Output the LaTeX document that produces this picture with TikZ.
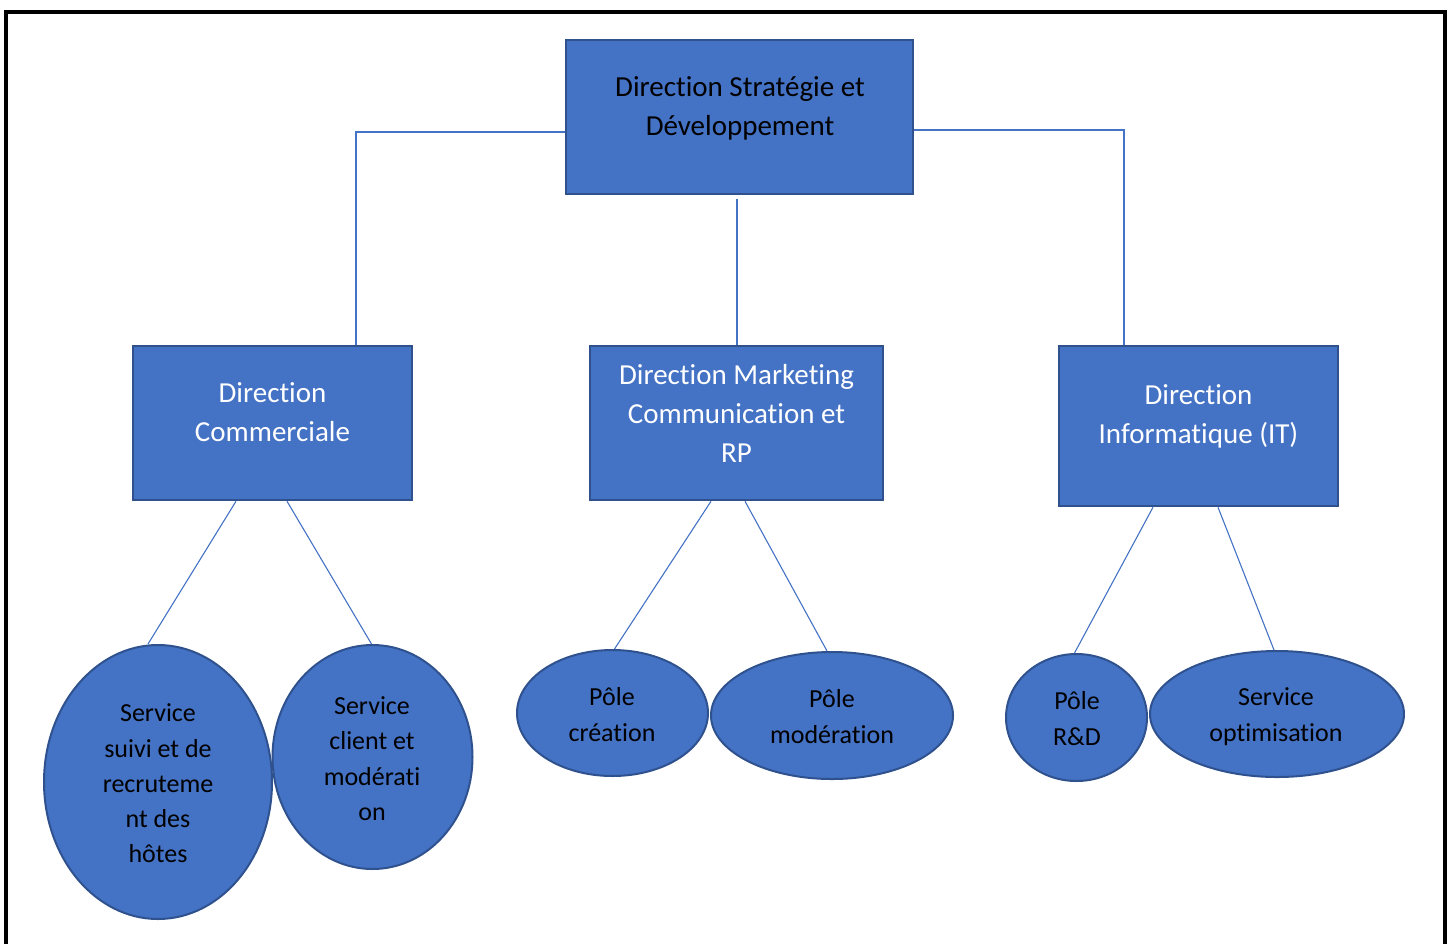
\documentclass[tikz,border=0pt]{standalone}
\usepackage{fontspec}
\setmainfont{Carlito}[Ligatures=NoCommon]
\usetikzlibrary{shapes.geometric}
\definecolor{fillblue}{HTML}{4472C4}
\definecolor{edgeblue}{HTML}{2F528F}
\tikzset{
  boxshape/.style={draw=edgeblue, fill=fillblue, line width=2.5pt, rectangle, inner sep=0pt},
  ellshape/.style={draw=edgeblue, fill=fillblue, line width=2pt, ellipse, inner sep=0pt},
  boxtext/.style={align=center, font=\fontsize{29}{39}\selectfont, inner sep=0pt},
  elltext/.style={align=center, font=\fontsize{26}{35.3}\selectfont, inner sep=0pt},
  upline/.style={draw=fillblue, line width=2pt},
  lowline/.style={draw=fillblue, line width=1.1pt},
}
\begin{document}
\begin{tikzpicture}[x=1pt, y=-1pt]
\useasboundingbox (0,0) rectangle (1450,943);
\draw[line width=4pt, black] (6,950) -- (6,12) -- (1445,12) -- (1445,950);

% boxes
\node[boxshape, minimum width=347pt, minimum height=154pt] (top) at (739.5,117) {};
\node[boxshape, minimum width=279pt, minimum height=154pt] (dc) at (272.5,423) {};
\node[boxshape, minimum width=293pt, minimum height=154pt] (dm) at (736.5,423) {};
\node[boxshape, minimum width=279pt, minimum height=160pt] (di) at (1198.5,426) {};

\node[boxtext, text=black] (topt) at (740,108.5) {Direction Stratégie et\\Développement};
\node[boxtext, text=white] (dct) at (272.5,412.5) {Direction\\Commerciale};
\node[boxtext, text=white] (dmt) at (736.5,413.5) {Direction Marketing\\Communication et\\RP};
\node[boxtext, text=white] (dit) at (1198.5,416.5) {Direction\\Informatique (IT)};

% ellipses
\node[ellshape, minimum width=228pt, minimum height=274pt] (e1) at (158,782) {};
\node[ellshape, minimum width=200pt, minimum height=224pt] (e2) at (372.5,757) {};
\node[ellshape, minimum width=191pt, minimum height=126pt] (e3) at (612.5,713) {};
\node[ellshape, minimum width=242pt, minimum height=127pt] (e4) at (832,715.5) {};
\node[ellshape, minimum width=141pt, minimum height=127pt] (e5) at (1076.5,717.5) {};
\node[ellshape, minimum width=254pt, minimum height=126pt] (e6) at (1277,714) {};

\node[elltext] (e1t) at (158,783.5) {Service\\suivi et de\\recruteme\\nt des\\hôtes};
\node[elltext] (e2t) at (372,758.5) {Service\\client et\\modérati\\on};
\node[elltext] (e3t) at (612,714.5) {Pôle\\création};
\node[elltext] (e4t) at (832,716.5) {Pôle\\modération};
\node[elltext] (e5t) at (1077,718.5) {Pôle\\R\&D};
\node[elltext] (e6t) at (1276,716.5) {Service\\optimisation};

% upper connectors
\draw[upline] ([yshift=-15pt]top.west) -| ([xshift=83.5pt]dc.north);
\draw[upline] ([yshift=-13pt]top.east) -| ([xshift=-74.5pt]di.north);
\draw[upline] ([yshift=-4pt]dm.north |- top.south) -- (dm.north);

% lower connectors
\draw[lowline] ([xshift=-36.5pt]dc.south) -- ([xshift=-10pt]e1.north);
\draw[lowline] ([xshift=14.5pt]dc.south) -- ([xshift=-1pt]e2.north);
\draw[lowline] ([xshift=-25.5pt]dm.south) -- ([xshift=2pt]e3.north);
\draw[lowline] ([xshift=8.5pt]dm.south) -- ([xshift=-5pt]e4.north);
\draw[lowline] ([xshift=-45.5pt]di.south) -- ([xshift=-2pt]e5.north);
\draw[lowline] ([xshift=19.5pt]di.south) -- ([xshift=-3pt]e6.north);
\end{tikzpicture}
\end{document}
